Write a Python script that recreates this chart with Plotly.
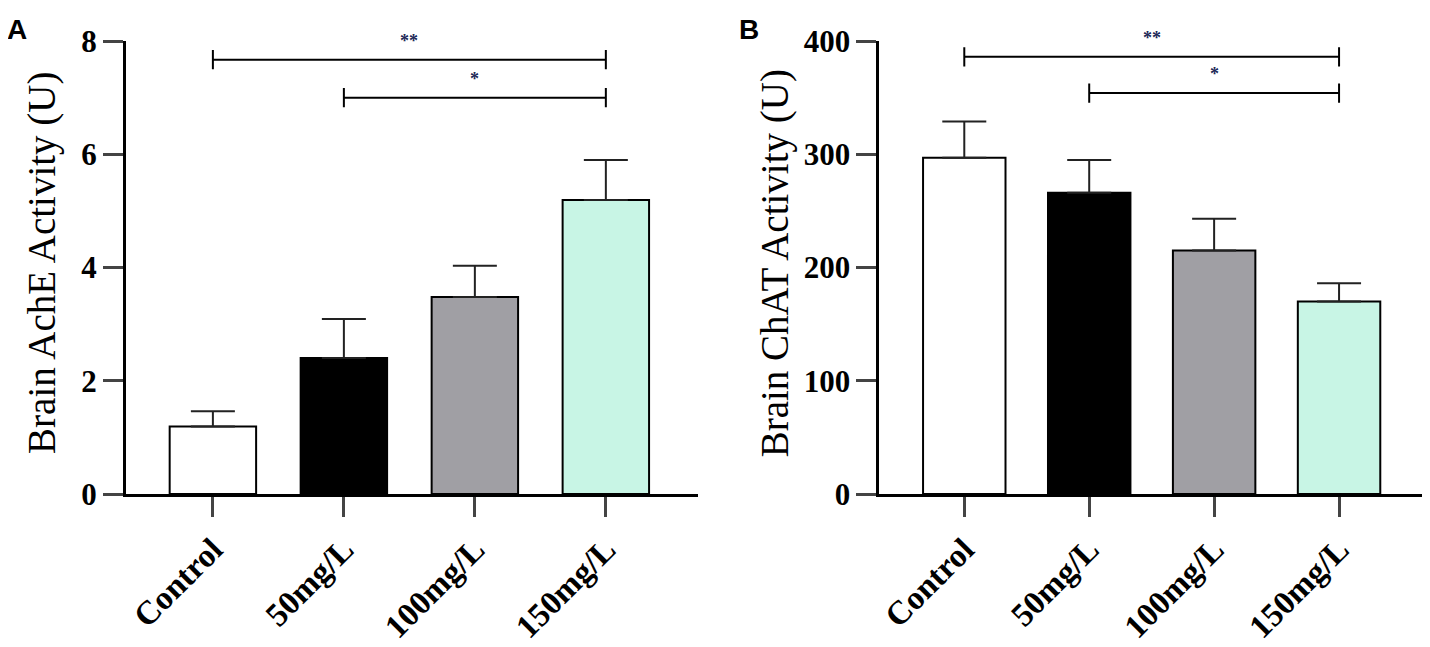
import plotly.graph_objs as go

groups = ["Control", "50mg/L", "100mg/L", "150mg/L"]
bar_colors = ["#ffffff", "#000000", "#a09fa4", "#c8f5e5"]

ache_mean = [1.19, 2.40, 3.48, 5.19]
ache_err = [0.27, 0.69, 0.55, 0.71]

chat_mean = [297, 266, 215, 170]
chat_err = [32, 29, 28, 16]

# significance brackets: (from group, to group, bracket height, label)
ache_sig = [(0, 3, 7.67, "**"), (1, 3, 7.0, "*")]
chat_sig = [(0, 3, 386, "**"), (1, 3, 354, "*")]

serif = "Liberation Serif"
pos = list(range(len(groups)))

fig = go.Figure()


def add_panel(mean, err, sig, xa, ya, tick_h):
    fig.add_trace(go.Bar(x=pos, y=mean, width=0.66,
                         marker=dict(color=bar_colors, line=dict(color="black", width=2)),
                         error_y=dict(type="data", array=err, arrayminus=[0] * len(err),
                                      symmetric=False, color="#222222", thickness=2, width=22),
                         xaxis=xa, yaxis=ya, showlegend=False))
    for a, b, y, label in sig:
        fig.add_trace(go.Scatter(x=[a, a, None, a, b, None, b, b],
                                 y=[y + tick_h, y - tick_h, None, y, y, None, y + tick_h, y - tick_h],
                                 mode="lines", line=dict(color="black", width=2),
                                 xaxis=xa, yaxis=ya, showlegend=False, cliponaxis=False))
        fig.add_annotation(x=(a + b) / 2, y=y, xref=xa, yref=ya, text=label, showarrow=False,
                           yanchor="middle", yshift=19,
                           font=dict(family=serif, size=18, color="#1c2757", weight="bold"))


add_panel(ache_mean, ache_err, ache_sig, "x", "y", 0.17)
add_panel(chat_mean, chat_err, chat_sig, "x2", "y2", 8.5)

ytick_font = dict(family=serif, size=31, color="black", weight="bold")
xtick_font = dict(family=serif, size=33, color="black", weight="bold")
xcommon = dict(tickvals=pos, ticktext=groups, tickangle=-45, ticks="outside", ticklen=20,
               tickwidth=3, showline=True, linewidth=3, linecolor="black", showgrid=False,
               zeroline=False, tickfont=xtick_font)
ycommon = dict(ticks="outside", ticklen=20, tickwidth=3, showline=True, linewidth=3,
               linecolor="black", showgrid=False, zeroline=False, tickfont=ytick_font)

# page body has an 8px margin, so the figure is 8px smaller than the window
fig.update_layout(
    width=1422, height=639,
    margin=dict(l=2, r=2, t=33, b=144),
    plot_bgcolor="white", paper_bgcolor="white",
    xaxis=dict(domain=[0.0811, 0.4845], range=[-0.664, 3.70], anchor="y", **xcommon),
    yaxis=dict(domain=[0, 1], range=[0, 8], dtick=2, anchor="x", **ycommon),
    xaxis2=dict(domain=[0.6128, 1.0], range=[-0.68, 3.712], anchor="y2", **xcommon),
    yaxis2=dict(domain=[0, 1], range=[0, 400], dtick=100, anchor="x2", **ycommon),
)

title_font = dict(family=serif, size=39, color="black")
fig.add_annotation(x=0, y=0.51, xref="x domain", yref="y domain", xshift=-84, xanchor="center",
                   text="Brain AchE Activity (U)", textangle=-90, showarrow=False, font=title_font)
fig.add_annotation(x=0, y=0.51, xref="x2 domain", yref="y2 domain", xshift=-104, xanchor="center",
                   text="Brain ChAT Activity (U)", textangle=-90, showarrow=False, font=title_font)

letter_font = dict(family="Liberation Sans", size=28, color="black", weight="bold")
fig.add_annotation(x=-0.0042, y=1.065, xref="paper", yref="paper", xanchor="left", yanchor="top",
                   text="A", showarrow=False, font=letter_font)
fig.add_annotation(x=0.5125, y=1.065, xref="paper", yref="paper", xanchor="left", yanchor="top",
                   text="B", showarrow=False, font=letter_font)

fig.write_html("out.html")
